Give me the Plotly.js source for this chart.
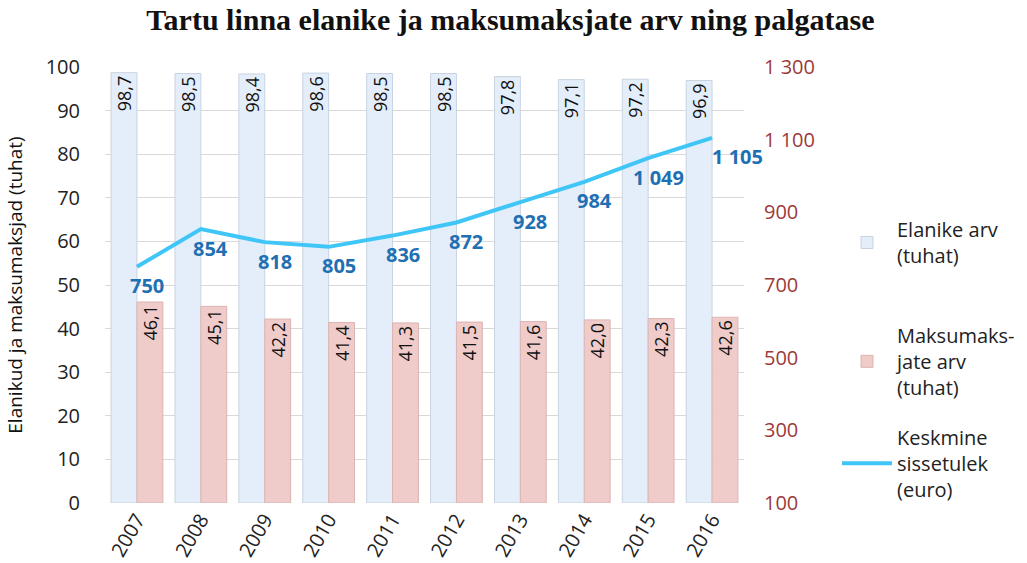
<!DOCTYPE html>
<html>
<head>
<meta charset="utf-8">
<script src="https://cdn.plot.ly/plotly-3.0.1.min.js"></script>
<style>
  html, body { margin: 0; padding: 0; background: #fff; }
  #chart { width: 1027px; height: 563px; }
</style>
</head>
<body>
<div id="chart"></div>
<script>
// ---- data ----
const years = ['2007', '2008', '2009', '2010', '2011', '2012', '2013', '2014', '2015', '2016'];
const elanikud = [98.7, 98.5, 98.4, 98.6, 98.5, 98.5, 97.8, 97.1, 97.2, 96.9];
const maksumaksjad = [46.1, 45.1, 42.2, 41.4, 41.3, 41.5, 41.6, 42.0, 42.3, 42.6];
const sissetulek = [750, 854, 818, 805, 836, 872, 928, 984, 1049, 1105];
const leftTicks = [0, 10, 20, 30, 40, 50, 60, 70, 80, 90, 100];
const rightTicks = [100, 300, 500, 700, 900, 1100, 1300];

const seriesNames = ['Elanike arv<br>(tuhat)', 'Maksumaks-<br>jate arv<br>(tuhat)', 'Keskmine<br>sissetulek<br>(euro)'];

// ---- formatting ----
const fmtDec = v => v.toFixed(1).replace('.', ',');
const fmtInt = v => String(v).replace(/\B(?=(\d{3})+(?!\d))/g, ' ');

const FONT = 'Open Sans, sans-serif';

const barText = {family: FONT, size: 18, color: '#111'};

const traces = [
  {
    type: 'bar', x: years, y: elanikud, name: seriesNames[0],
    marker: {color: '#e4eefa', line: {color: '#c9d3df', width: 1}},
    text: elanikud.map(fmtDec), textposition: 'inside', insidetextanchor: 'end',
    textangle: -90, textfont: barText, constraintext: 'none',
    legend: 'legend', hoverinfo: 'x+y'
  },
  {
    type: 'bar', x: years, y: maksumaksjad, name: seriesNames[1],
    marker: {color: '#efcbc9', line: {color: '#dcb4b2', width: 1}},
    text: maksumaksjad.map(fmtDec), textposition: 'inside', insidetextanchor: 'end',
    textangle: -90, textfont: barText, constraintext: 'none',
    legend: 'legend2', hoverinfo: 'x+y'
  },
  {
    type: 'scatter', mode: 'lines', x: years, y: sissetulek, yaxis: 'y2',
    name: seriesNames[2], line: {color: '#3fc6f7', width: 4},
    legend: 'legend3', hoverinfo: 'x+y'
  }
];

// annotations use the category serial number (index) so '2007' is not read as a number
const lastIdx = sissetulek.length - 1;
const annotations = sissetulek.map((v, i) => ({
  x: i, y: v, xref: 'x', yref: 'y2',
  text: fmtInt(v), showarrow: false,
  xanchor: i === lastIdx ? 'left' : 'center',
  xshift: i === lastIdx ? -2 : 10,
  yshift: -19,
  font: {family: FONT, size: 20, color: '#1f70b3', weight: 'bold'}
}));

const legendBase = {
  xref: 'container', yref: 'container', x: 0.815, xanchor: 'left', yanchor: 'top',
  font: {family: FONT, size: 20, color: '#222'}, itemwidth: 50,
  bgcolor: 'rgba(0,0,0,0)'
};

const layout = {
  width: 1027, height: 563,
  margin: {l: 105, r: 283, t: 67, b: 60, pad: 0},
  paper_bgcolor: '#fff', plot_bgcolor: '#fff',
  font: {family: FONT, size: 20, color: '#222'},
  uniformtext: {mode: 'show', minsize: 18},
  title: {
    text: '<b>Tartu linna elanike ja maksumaksjate arv ning palgatase</b>',
    font: {family: 'Liberation Serif, serif', size: 30, color: '#111'},
    x: 0.497, xanchor: 'center', y: 0.966, yanchor: 'middle'
  },
  barmode: 'group', bargap: 0.19, bargroupgap: 0,
  showlegend: true,
  legend: Object.assign({}, legendBase, {y: 0.627}),
  legend2: Object.assign({}, legendBase, {y: 0.439}),
  legend3: Object.assign({}, legendBase, {y: 0.258}),
  xaxis: {
    type: 'category', range: [-0.5, years.length - 0.5], autorange: false,
    tickangle: -60, showgrid: false, zeroline: false,
    showline: false, ticks: '', tickfont: {family: FONT, size: 20, color: '#222'}
  },
  yaxis: {
    range: [0, 100], autorange: false, tickvals: leftTicks, ticktext: leftTicks.map(String),
    showgrid: true, gridcolor: '#d9d9d9', gridwidth: 1, zeroline: false,
    showline: false, ticks: 'outside', ticklen: 20, tickcolor: 'rgba(0,0,0,0)',
    tickfont: {family: FONT, size: 20, color: '#222'},
    title: {text: 'Elanikud ja maksumaksjad (tuhat)', font: {family: FONT, size: 19, color: '#111'}, standoff: 18}
  },
  yaxis2: {
    overlaying: 'y', side: 'right', range: [100, 1300], autorange: false,
    tickvals: rightTicks, ticktext: rightTicks.map(fmtInt),
    showgrid: false, zeroline: false, showline: false,
    ticks: 'outside', ticklen: 15, tickcolor: 'rgba(0,0,0,0)',
    tickfont: {family: FONT, size: 20, color: '#9c3a3a'}
  },
  annotations: annotations
};

Plotly.newPlot('chart', traces, layout, {displayModeBar: false, staticPlot: true});
</script>
</body>
</html>
